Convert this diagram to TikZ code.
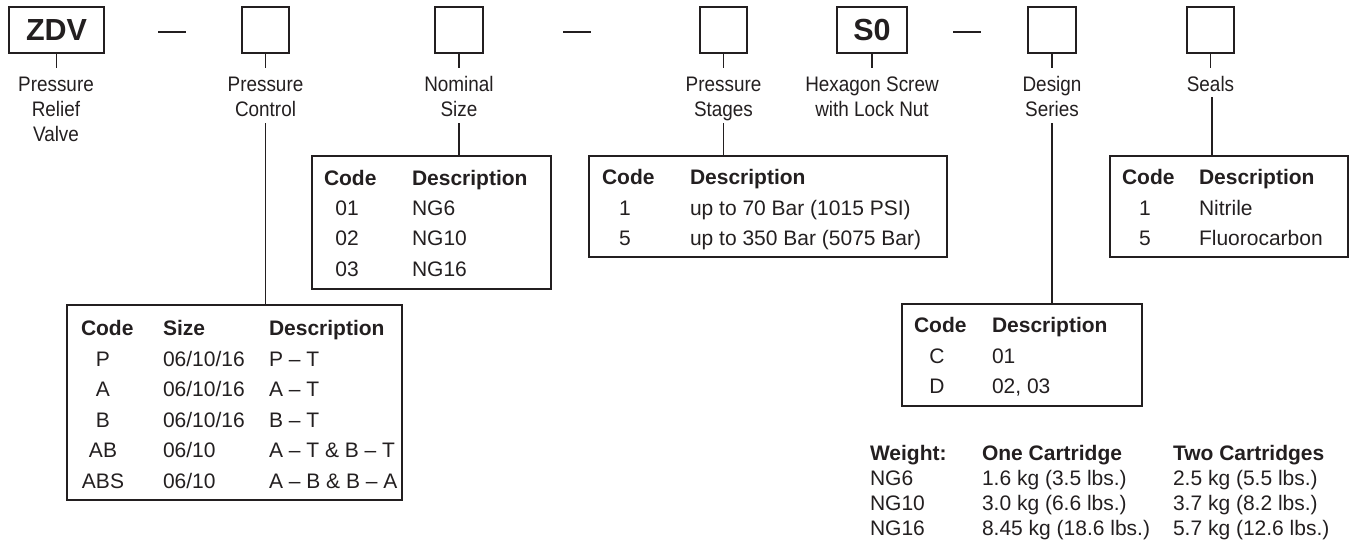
\documentclass[tikz,border=0pt]{standalone}
\usepackage{fontspec}
\setmainfont{Liberation Sans}
\newfontfamily\condf[FakeStretch=0.9]{Liberation Sans}
\definecolor{ink}{HTML}{231F20}
\begin{document}
\begin{tikzpicture}[x=1pt,y=-1pt,every node/.style={inner sep=0pt,outer sep=0pt,text=ink}]
\useasboundingbox (0,0) rectangle (1351,542);
\tikzset{
 codebox/.style={draw=ink,line width=1.8pt,minimum height=46pt,anchor=north west},
 lab/.style={font=\condf\fontsize{21}{24}\selectfont,anchor=base},
 tb/.style={font=\fontsize{21}{24}\selectfont,anchor=base west},
 tbc/.style={font=\fontsize{21}{24}\selectfont,anchor=base},
 th/.style={font=\bfseries\fontsize{21}{24}\selectfont,anchor=base west},
 frame/.style={draw=ink,line width=1.8pt,anchor=north west},
 conn/.style={draw=ink,line width=1.6pt},
 sep/.style={fill=ink,minimum width=28pt,minimum height=1.6pt},
 big/.style={font=\bfseries\fontsize{30.5}{32}\selectfont},
}
% code boxes
\node[codebox,big,minimum width=95pt] (b1) at (9,7) {ZDV};
\node[codebox,minimum width=47pt] (b2) at (242,7) {};
\node[codebox,minimum width=48pt] (b3) at (435,7) {};
\node[codebox,minimum width=47pt] (b4) at (700,7) {};
\node[codebox,big,minimum width=70pt] (b5) at (837,7) {S0};
\node[codebox,minimum width=48pt] (b6) at (1028,7) {};
\node[codebox,minimum width=47pt] (b7) at (1187,7) {};
% separators
\node[sep] (d1) at (172,32) {};
\node[sep] (d2) at (577,32) {};
\node[sep] (d3) at (967,32) {};
% labels
\node[lab] (l1a) at (56,91) {Pressure};
\node[lab] (l1b) at (56,116) {Relief};
\node[lab] (l1c) at (56,141) {Valve};
\node[lab] (l2a) at (265.5,91) {Pressure};
\node[lab] (l2b) at (265.5,116) {Control};
\node[lab] (l3a) at (459,91) {Nominal};
\node[lab] (l3b) at (459,116) {Size};
\node[lab] (l4a) at (723.5,91) {Pressure};
\node[lab] (l4b) at (723.5,116) {Stages};
\node[lab] (l5a) at (872,91) {Hexagon Screw};
\node[lab] (l5b) at (872,116) {with Lock Nut};
\node[lab] (l6a) at (1052,91) {Design};
\node[lab] (l6b) at (1052,116) {Series};
\node[lab] (l7a) at (1210.5,91) {Seals};
% tick ends
\foreach \i/\x in {1/56.5,2/265.5,3/459,4/723.5,5/872,6/1052,7/1210.5}{
  \coordinate (t\i) at (\x,68);
  \draw[conn] (b\i.south) -- (t\i);
}
% table frames
\node[frame,minimum width=335pt,minimum height=195pt] (pcT) at (67,305) {};
\node[frame,minimum width=239pt,minimum height=133pt] (nsT) at (312,156) {};
\node[frame,minimum width=358pt,minimum height=101pt] (psT) at (589,156) {};
\node[frame,minimum width=238pt,minimum height=101pt] (seT) at (1110,156) {};
\node[frame,minimum width=240pt,minimum height=102pt] (dsT) at (902,304) {};
% connectors to tables
\coordinate (c2) at (265.5,123);
\coordinate (c3) at (459,123);
\coordinate (c4) at (723.5,123);
\coordinate (c6) at (1052,123);
\coordinate (c7) at (1212,97);
\draw[conn] (c2) -- (c2 |- pcT.north);
\draw[conn] (c3) -- (c3 |- nsT.north);
\draw[conn] (c4) -- (c4 |- psT.north);
\draw[conn] (c6) -- (c6 |- dsT.north);
\draw[conn] (c7) -- (c7 |- seT.north);
% Pressure control table
\node[th] (pch1) at (81,335) {Code};
\node[th] (pch2) at (163,335) {Size};
\node[th] (pch3) at (269,335) {Description};
\node[tbc] (pc1a) at (103,366) {P};
\node[tb] (pc1b) at (163,366) {06/10/16};
\node[tb] (pc1c) at (269,366) {P -- T};
\node[tbc] (pc2a) at (103,396) {A};
\node[tb] (pc2b) at (163,396) {06/10/16};
\node[tb] (pc2c) at (269,396) {A -- T};
\node[tbc] (pc3a) at (103,427) {B};
\node[tb] (pc3b) at (163,427) {06/10/16};
\node[tb] (pc3c) at (269,427) {B -- T};
\node[tbc] (pc4a) at (103,457) {AB};
\node[tb] (pc4b) at (163,457) {06/10};
\node[tb] (pc4c) at (269,457) {A -- T \& B -- T};
\node[tbc] (pc5a) at (103,488) {ABS};
\node[tb] (pc5b) at (163,488) {06/10};
\node[tb] (pc5c) at (269,488) {A -- B \& B -- A};
% Nominal size table
\node[th] (nsh1) at (324,185) {Code};
\node[th] (nsh2) at (412,185) {Description};
\node[tbc] (ns1a) at (347,215) {01};
\node[tb] (ns1b) at (412,215) {NG6};
\node[tbc] (ns2a) at (347,245) {02};
\node[tb] (ns2b) at (412,245) {NG10};
\node[tbc] (ns3a) at (347,276) {03};
\node[tb] (ns3b) at (412,276) {NG16};
% Pressure stages table
\node[th] (psh1) at (602,184) {Code};
\node[th] (psh2) at (690,184) {Description};
\node[tbc] (ps1a) at (625,215) {1};
\node[tb] (ps1b) at (690,215) {up to 70 Bar (1015 PSI)};
\node[tbc] (ps2a) at (625,245) {5};
\node[tb] (ps2b) at (690,245) {up to 350 Bar (5075 Bar)};
% Seals table
\node[th] (seh1) at (1122,184) {Code};
\node[th] (seh2) at (1199,184) {Description};
\node[tbc] (se1a) at (1145,215) {1};
\node[tb] (se1b) at (1199,215) {Nitrile};
\node[tbc] (se2a) at (1145,245) {5};
\node[tb] (se2b) at (1199,245) {Fluorocarbon};
% Design series table
\node[th] (dsh1) at (914,332) {Code};
\node[th] (dsh2) at (992,332) {Description};
\node[tbc] (ds1a) at (937,363) {C};
\node[tb] (ds1b) at (992,363) {01};
\node[tbc] (ds2a) at (937,393) {D};
\node[tb] (ds2b) at (992,393) {02, 03};
% Weight table
\node[th] (wh1) at (870,460) {Weight:};
\node[th] (wh2) at (982,460) {One Cartridge};
\node[th] (wh3) at (1173,460) {Two Cartridges};
\node[tb] (w1a) at (870,485) {NG6};
\node[tb] (w1b) at (982,485) {1.6 kg (3.5 lbs.)};
\node[tb] (w1c) at (1173,485) {2.5 kg (5.5 lbs.)};
\node[tb] (w2a) at (870,510) {NG10};
\node[tb] (w2b) at (982,510) {3.0 kg (6.6 lbs.)};
\node[tb] (w2c) at (1173,510) {3.7 kg (8.2 lbs.)};
\node[tb] (w3a) at (870,535) {NG16};
\node[tb] (w3b) at (982,535) {8.45 kg (18.6 lbs.)};
\node[tb] (w3c) at (1173,535) {5.7 kg (12.6 lbs.)};
\end{tikzpicture}
\end{document}
